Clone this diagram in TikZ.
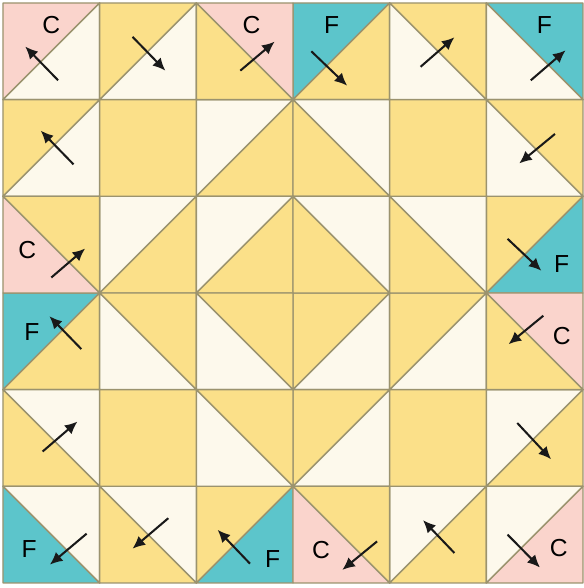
\documentclass[tikz,border=0pt]{standalone}
\usepackage{fontspec}
\setmainfont{Liberation Sans}
\usetikzlibrary{arrows.meta}
\definecolor{Rose}{RGB}{250,212,204}
\definecolor{Sarcelle}{RGB}{92,197,203}
\definecolor{Jaune}{RGB}{251,224,137}
\definecolor{Creme}{RGB}{253,249,236}
\definecolor{Trait}{RGB}{155,147,110}
\tikzset{piece/.style={draw=Trait, line width=0.8pt, line join=round}}
\tikzset{lettre/.style={inner sep=0pt, font=\fontsize{14.5}{16}\selectfont}}
\tikzset{fl/.style={-{Latex[length=2.6mm, width=2.4mm]}, draw=black!90, line width=1.2pt}}

\begin{document}
\begin{tikzpicture}[x=2cm, y=2cm]
\useasboundingbox (-0.031,-0.052) rectangle (6.003,6.031);
% carres unis
\foreach \x/\y in {1/4, 4/4, 1/1, 4/1}
  \filldraw[piece, fill=Jaune] (\x,\y) rectangle ++(1,1);
% diagonale montante : haut-gauche / bas-droite
\foreach \x/\y/\a/\b in {0/5/Rose/Creme, 1/5/Jaune/Creme, 3/5/Sarcelle/Jaune,
    0/4/Jaune/Creme, 2/4/Creme/Jaune, 1/3/Creme/Jaune, 2/3/Creme/Jaune,
    5/3/Jaune/Sarcelle, 0/2/Sarcelle/Jaune, 3/2/Jaune/Creme, 4/2/Jaune/Creme,
    3/1/Jaune/Creme, 5/1/Creme/Jaune, 2/0/Jaune/Sarcelle, 4/0/Creme/Jaune,
    5/0/Creme/Rose} {
  \filldraw[piece, fill=\a] (\x,\y) -- ++(1,1) -- ++(-1,0) -- cycle;
  \filldraw[piece, fill=\b] (\x,\y) -- ++(1,0) -- ++(0,1) -- cycle;
}
% diagonale descendante : haut-droite / bas-gauche
\foreach \x/\y/\a/\b in {2/5/Rose/Jaune, 4/5/Jaune/Creme, 5/5/Sarcelle/Creme,
    3/4/Creme/Jaune, 5/4/Jaune/Creme, 0/3/Jaune/Rose, 3/3/Creme/Jaune,
    4/3/Creme/Jaune, 1/2/Jaune/Creme, 2/2/Jaune/Creme, 5/2/Rose/Jaune,
    0/1/Creme/Jaune, 2/1/Jaune/Creme, 0/0/Creme/Sarcelle, 1/0/Creme/Jaune,
    3/0/Jaune/Rose} {
  \filldraw[piece, fill=\a] (\x,\y+1) -- ++(1,0) -- ++(0,-1) -- cycle;
  \filldraw[piece, fill=\b] (\x,\y) -- ++(0,1) -- ++(1,-1) -- cycle;
}
% lettres
\foreach \x/\y/\t in {0.50/5.77/C, 2.57/5.77/C, 3.40/5.77/F, 5.60/5.77/F,
    0.25/3.44/C, 0.30/2.60/F, 5.78/3.30/F, 5.78/2.55/C,
    0.27/0.35/F, 2.79/0.25/F, 3.29/0.34/C, 5.75/0.36/C}
  \node[lettre] (l-\x-\y) at (\x,\y) {\t};
% fleches
\foreach \x/\y/\xa/\ya/\xb/\yb in {0/5/.57/.20/.23/.55, 1/5/.34/.65/.68/.30,
    2/5/.455/.30/.81/.60, 3/5/.19/.50/.56/.145, 4/5/.32/.34/.67/.645,
    5/5/.46/.20/.82/.51, 0/4/.73/.33/.39/.68, 5/4/.71/.645/.34/.34,
    0/3/.50/.16/.85/.46, 5/3/.22/.56/.57/.23, 0/2/.81/.42/.48/.76,
    5/2/.59/.765/.23/.47, 0/1/.41/.36/.77/.67, 5/1/.32/.655/.67/.28,
    0/0/.865/.51/.485/.19, 1/0/.71/.67/.34/.355, 2/0/.555/.20/.22/.55,
    3/0/.87/.43/.51/.135, 4/0/.67/.31/.345/.65, 5/0/.22/.50/.555/.16}
  \draw[fl] (\x+\xa,\y+\ya) -- (\x+\xb,\y+\yb);
\end{tikzpicture}
\end{document}
